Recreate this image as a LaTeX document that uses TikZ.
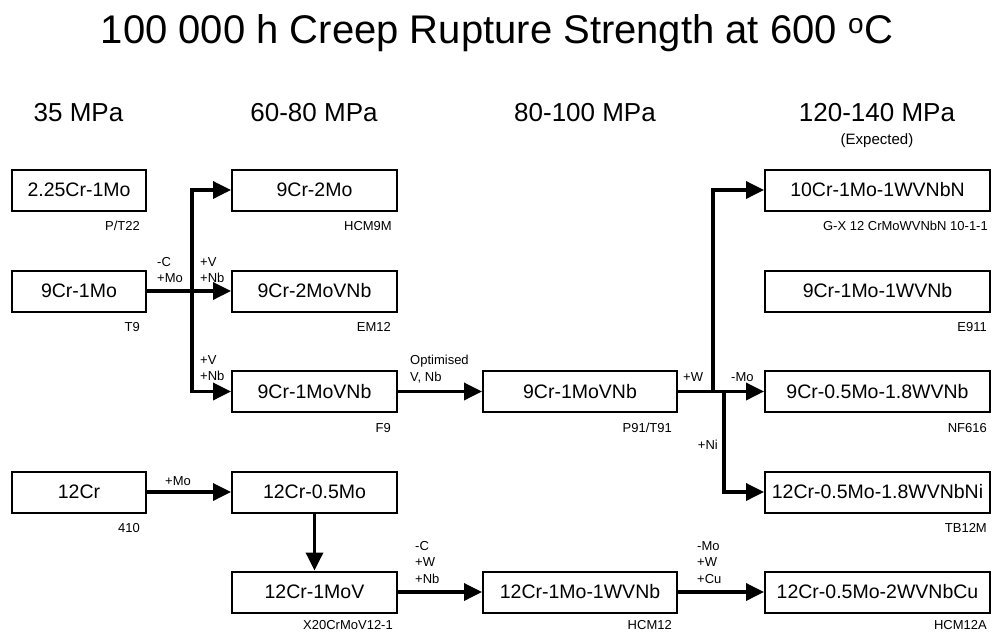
\documentclass[tikz,border=0pt]{standalone}
\usepackage{fontspec}
\setmainfont{Liberation Sans}
\usetikzlibrary{arrows.meta,calc}
\begin{document}
\begin{tikzpicture}[x=1pt,y=-1pt,
  box/.style={draw, line width=2pt, inner sep=0pt, minimum height=41pt, font=\fontsize{19.5}{22}\selectfont},
  wa/.style={minimum width=134pt},
  wb/.style={minimum width=165pt},
  wc/.style={minimum width=194pt},
  wd/.style={minimum width=225pt},
  sub/.style={font=\fontsize{13}{15}\selectfont, inner sep=0pt, anchor=base east},
  lab/.style={font=\fontsize{13}{16.5}\selectfont, inner sep=0pt, align=left, anchor=north west},
  labr/.style={font=\fontsize{13}{16.5}\selectfont, inner sep=0pt, align=right, anchor=north east},
  hdr/.style={font=\fontsize{26}{30}\selectfont, inner sep=0pt, anchor=base},
  conn/.style={line width=3.5pt, -{Triangle[length=18pt,width=17pt]}},
  seg/.style={line width=3.5pt}]
\useasboundingbox (0,0) rectangle (992,632);

% title and headers
\node[font=\fontsize{40}{48}\selectfont, inner sep=0pt, anchor=base] (title) at (497,43) {100 000 h Creep Rupture Strength at 600 \textsuperscript{o}C};
\node[hdr] (h1) at (78.5,121) {35 MPa};
\node[hdr] (h2) at (314,121) {60-80 MPa};
\node[hdr] (h3) at (585,121) {80-100 MPa};
\node[hdr] (h4) at (877,121) {120-140 MPa};
\node[font=\fontsize{15}{18}\selectfont, inner sep=0pt, anchor=base] (h4e) at (877,144) {(Expected)};

% column 1
\node[box,wa] (a1) at (79,190) {2.25Cr-1Mo};
\node[box,wa] (a2) at (79,291) {9Cr-1Mo};
\node[box,wa] (a4) at (79,492) {12Cr};
% column 2
\node[box,wb] (b1) at (314.5,190) {9Cr-2Mo};
\node[box,wb] (b2) at (314.5,291) {9Cr-2MoVNb};
\node[box,wb] (b3) at (314.5,391.5) {9Cr-1MoVNb};
\node[box,wb] (b4) at (314.5,492) {12Cr-0.5Mo};
\node[box,wb] (b5) at (314.5,592) {12Cr-1MoV};
% column 3
\node[box,wc] (c3) at (580,391.5) {9Cr-1MoVNb};
\node[box,wc] (c5) at (580,592) {12Cr-1Mo-1WVNb};
% column 4
\node[box,wd] (d1) at (877.5,190) {10Cr-1Mo-1WVNbN};
\node[box,wd] (d2) at (877.5,291) {9Cr-1Mo-1WVNb};
\node[box,wd] (d3) at (877.5,391.5) {9Cr-0.5Mo-1.8WVNb};
\node[box,wd] (d4) at (877.5,492) {12Cr-0.5Mo-1.8WVNbNi};
\node[box,wd] (d5) at (877.5,592) {12Cr-0.5Mo-2WVNbCu};

% designations
\node[sub] (sa1) at ($(a1.south east)+(-7,19)$) {P/T22};
\node[sub] (sa2) at ($(a2.south east)+(-7,19)$) {T9};
\node[sub] (sa4) at ($(a4.south east)+(-7,19)$) {410};
\node[sub] (sb1) at ($(b1.south east)+(-6,19)$) {HCM9M};
\node[sub] (sb2) at ($(b2.south east)+(-7,19)$) {EM12};
\node[sub] (sb3) at ($(b3.south east)+(-7,19)$) {F9};
\node[sub] (sb5) at ($(b5.south east)+(-5,16)$) {X20CrMoV12-1};
\node[sub] (sc3) at ($(c3.south east)+(-6,19)$) {P91/T91};
\node[sub] (sc5) at ($(c5.south east)+(-6,16)$) {HCM12};
\node[sub] (sd1) at ($(d1.south east)+(-3,19)$) {G-X 12 CrMoWVNbN 10-1-1};
\node[sub] (sd2) at ($(d2.south east)+(-4,19)$) {E911};
\node[sub] (sd3) at ($(d3.south east)+(-4,19)$) {NF616};
\node[sub] (sd4) at ($(d4.south east)+(-4,19)$) {TB12M};
\node[sub] (sd5) at ($(d5.south east)+(-4,16)$) {HCM12A};

% junctions
\coordinate (j1) at (192,291);
\coordinate (j2) at (713,391.5);
\coordinate (j3) at (724,391.5);

% connectors
\draw[conn] (a2.east) -- (b2.west);
\draw[conn] (j1) |- (b1.west);
\draw[conn] (j1) |- (b3.west);
\draw[conn] (b3.east) -- (c3.west);
\draw[conn] (c3.east) -- (d3.west);
\draw[conn] (j2) |- (d1.west);
\draw[conn] (j3) |- (d4.west);
\draw[conn] (a4.east) -- (b4.west);
\draw[conn] (b4.south) -- (b5.north);
\draw[conn] (b5.east) -- (c5.west);
\draw[conn] (c5.east) -- (d5.west);

% connector labels
\node[lab] (l1) at (157,257) {-C\\+Mo};
\node[lab] (l2) at (200,257) {+V\\+Nb};
\node[lab] (l3) at (200,355) {+V\\+Nb};
\node[lab] (l4) at (410,355) {Optimised\\V, Nb};
\node[lab] (l5) at (683,372) {+W};
\node[lab] (l6) at (731,372) {-Mo};
\node[labr] (l7) at (718,440) {+Ni};
\node[lab] (l8) at (165,476) {+Mo};
\node[lab] (l9) at (415,541) {-C\\+W\\+Nb};
\node[lab] (l10) at (697,541) {-Mo\\+W\\+Cu};
\end{tikzpicture}
\end{document}
